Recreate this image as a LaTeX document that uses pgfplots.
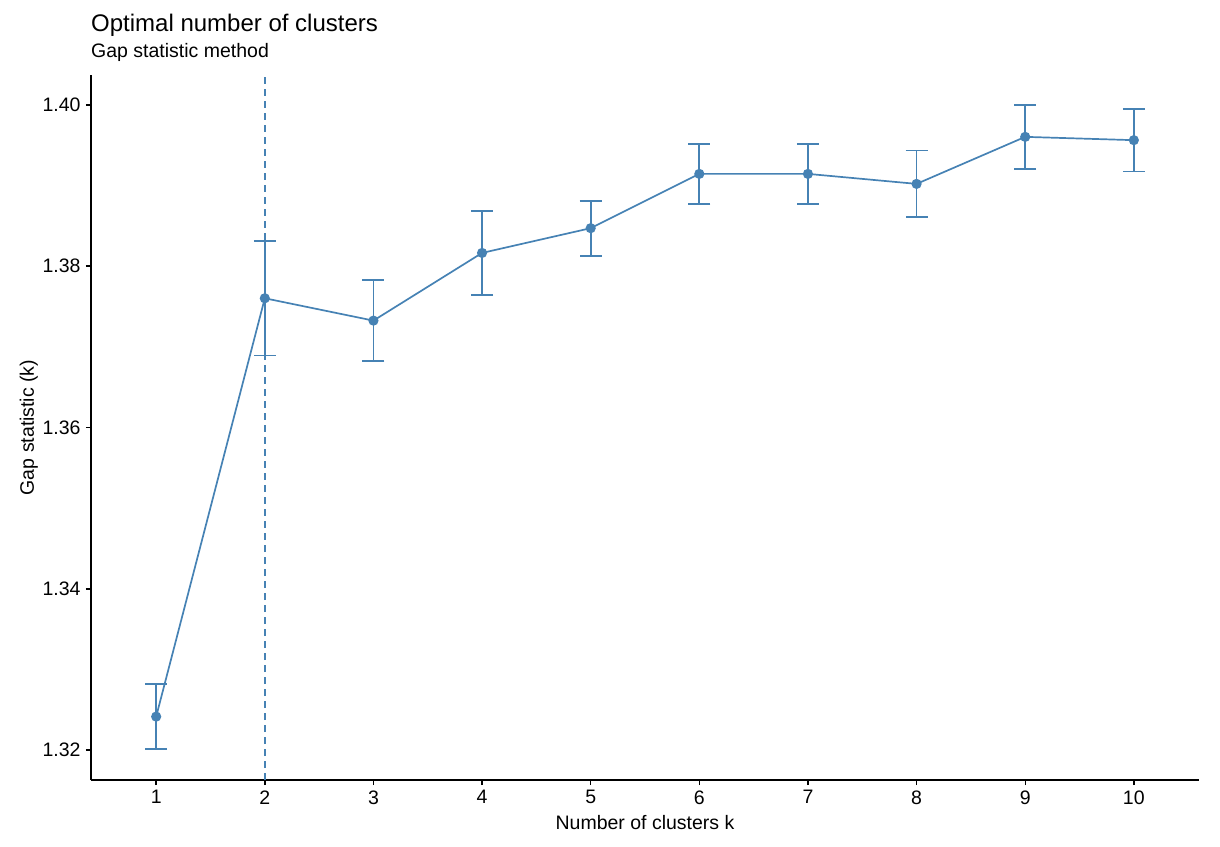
\documentclass[border=0pt]{standalone}
\usepackage{pgfplots}
\pgfplotsset{compat=1.18}
\usepackage{fontspec}
\setmainfont{Liberation Sans}
\definecolor{steelblue}{RGB}{70,130,180}

\begin{document}
\begin{tikzpicture}[x=1pt,y=1pt]
\begin{axis}[
    scale only axis,
    width=1108pt, height=705pt,
    xmin=0.4, xmax=10.6,
    ymin=1.3163, ymax=1.4037,
    axis x line*=bottom, axis y line*=left,
    axis line style={line width=1.4pt, -},
    xtick={1,...,10},
    ytick={1.32,1.34,1.36,1.38,1.40},
    /pgf/number format/fixed,
    /pgf/number format/fixed zerofill,
    /pgf/number format/precision=2,
    /pgf/number format/assume math mode=true,
    tick align=outside,
    major tick length=5pt,
    tick style={line width=1.4pt, black},
    ticklabel style={font=\fontsize{19.5}{22}\selectfont},
    xlabel={Number of clusters k},
    ylabel={Gap statistic (k)},
    label style={font=\fontsize{19.5}{22}\selectfont},
    xlabel style={at={(rel axis cs:0.5,0)}, anchor=base, yshift=-49pt},
    ylabel style={at={(rel axis cs:0,0.5)}, anchor=base, yshift=57pt},
    xticklabel style={yshift=-2pt, /pgf/number format/precision=0},
    yticklabel style={xshift=-2pt},
    clip=false,
]
\addplot[steelblue, dash pattern=on 7pt off 5pt, line width=1.5pt]
    coordinates {(2,1.3163) (2,1.4037)};
\addplot[steelblue, line width=1.7pt, mark=*, mark size=4.2pt,
    mark options={solid, fill=steelblue, draw=steelblue},
    error bars/.cd, y dir=both, y explicit,
    error bar style={line width=1.8pt, steelblue},
    error mark options={rotate=90, mark size=11pt, line width=1.8pt, steelblue}]
    coordinates {
    (1,1.32416) +- (0,0.00403)
    (2,1.37602) +- (0,0.00709)
    (3,1.37325) +- (0,0.00505)
    (4,1.38164) +- (0,0.00521)
    (5,1.38471) +- (0,0.00341)
    (6,1.39144) +- (0,0.00372)
    (7,1.39144) +- (0,0.00372)
    (8,1.39020) +- (0,0.00415)
    (9,1.39603) +- (0,0.00397)
    (10,1.39562) +- (0,0.00388)
    };
\node[anchor=base west, inner sep=0pt, font=\fontsize{24}{28}\selectfont]
    at (rel axis cs:0,1) [yshift=43pt] {Optimal number of clusters};
\node[anchor=base west, inner sep=0pt, font=\fontsize{19.5}{22}\selectfont]
    at (rel axis cs:0,1) [yshift=17pt] {Gap statistic method};
\end{axis}
\pgfresetboundingbox
\path (current axis.south west) ++(-91pt,-66pt) rectangle ++(1220pt,846pt);
\end{tikzpicture}
\end{document}
